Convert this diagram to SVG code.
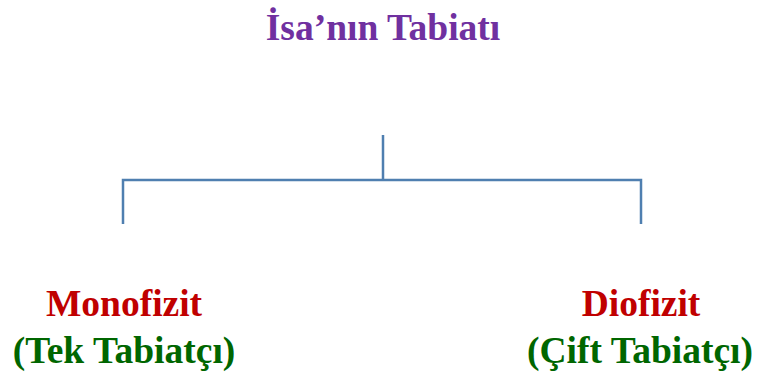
<svg xmlns="http://www.w3.org/2000/svg" width="757" height="380" viewBox="0 0 757 380">
<style>
text{font-family:"Liberation Serif","Times New Roman",serif;font-weight:bold;font-size:37.5px;text-anchor:middle}
.t{fill:#7030A0}
.r{fill:#C00000}
.g{fill:#006600}
.c{stroke:#4F7FB0;stroke-width:2.5;fill:none}
</style>
<rect width="757" height="380" fill="#fff"/>
<g id="root"><text class="t" x="383" y="40">İsa’nın Tabiatı</text></g>
<g id="connectors">
<path class="c" d="M383 135V180"/>
<path class="c" d="M123 224V180H641V224"/>
</g>
<g id="monofizit"><text class="r" x="124" y="316">Monofizit</text><text class="g" x="124" y="363">(Tek Tabiatçı)</text></g>
<g id="diofizit"><text class="r" x="641" y="316">Diofizit</text><text class="g" x="640" y="363">(Çift Tabiatçı)</text></g>
</svg>
